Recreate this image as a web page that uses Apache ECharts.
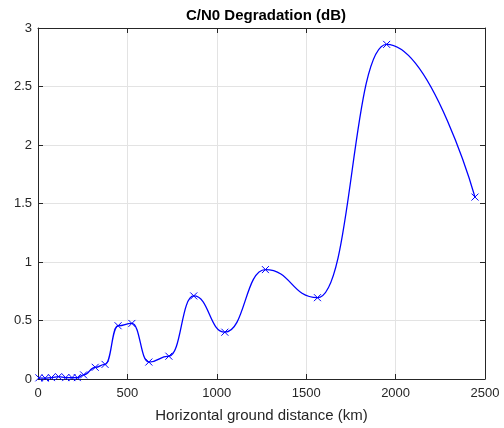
<!DOCTYPE html>
<html>
<head>
<meta charset="utf-8">
<script src="https://cdn.jsdelivr.net/npm/echarts@6/dist/echarts.min.js"></script>
<style>html,body{margin:0;padding:0;background:#fff;}#c{width:504px;height:428px;}</style>
</head>
<body>
<div id="c"></div>
<script>
const distanceKm = [5, 40, 75, 115, 155, 190, 220, 255, 320, 375, 448, 525, 620, 732, 871, 1045, 1272, 1563, 1950, 2444];
const degradationDb = [0.010, 0.008, 0.012, 0.020, 0.012, 0.012, 0.012, 0.035, 0.100, 0.125, 0.455, 0.475, 0.145, 0.195, 0.710, 0.400, 0.935, 0.695, 2.860, 1.555];
const xTicks = [0, 500, 1000, 1500, 2000, 2500];
const yTicks = [0, 0.5, 1, 1.5, 2, 2.5, 3];
const titleText = 'C/N0 Degradation (dB)';
const xLabelText = 'Horizontal ground distance (km)';

const axisColor = '#262626';
const gridColor = '#e3e3e3';
const font = 'Liberation Sans, Arial, Helvetica, sans-serif';

const chart = echarts.init(document.getElementById('c'), null, {renderer: 'canvas'});
const baseX = {
  type: 'value', min: xTicks[0], max: xTicks[xTicks.length - 1], interval: 500,
  axisLine: {show: true, onZero: false, lineStyle: {color: axisColor, width: 1}},
  axisTick: {show: true, inside: true, length: 5, lineStyle: {color: axisColor}},
  splitLine: {show: false}
};
const baseY = {
  type: 'value', min: yTicks[0], max: yTicks[yTicks.length - 1], interval: 0.5,
  axisLine: {show: true, onZero: false, lineStyle: {color: axisColor, width: 1}},
  axisTick: {show: true, inside: true, length: 5, lineStyle: {color: axisColor}},
  splitLine: {show: false}
};
chart.setOption({
  animation: false,
  backgroundColor: '#ffffff',
  title: {
    text: titleText, left: 261, top: 3, textAlign: 'center',
    textStyle: {fontFamily: font, fontSize: 15, fontWeight: 'bold', color: '#000'}
  },
  grid: {left: 38, top: 28, right: 19, bottom: 48, containLabel: false},
  xAxis: [
    Object.assign({}, baseX, {
      position: 'bottom',
      name: xLabelText, nameLocation: 'middle', nameGap: 29,
      nameTextStyle: {fontFamily: font, fontSize: 15, color: axisColor},
      axisLabel: {show: true, margin: 8, fontFamily: font, fontSize: 13, color: axisColor,
        formatter: v => String(v)},
      splitLine: {show: true, lineStyle: {color: gridColor, width: 1}}
    }),
    Object.assign({}, baseX, {position: 'top', axisLabel: {show: false}})
  ],
  yAxis: [
    Object.assign({}, baseY, {
      position: 'left',
      axisLabel: {show: true, margin: 6, fontFamily: font, fontSize: 13, color: axisColor,
        formatter: v => String(v)},
      splitLine: {show: true, lineStyle: {color: gridColor, width: 1}}
    }),
    Object.assign({}, baseY, {position: 'right', axisLabel: {show: false}})
  ],
  series: [{
    type: 'line',
    data: distanceKm.map((d, i) => [d, degradationDb[i]]),
    smooth: 0.5,
    smoothMonotone: 'x',
    showAllSymbol: true,
    symbol: 'path://M0,0L10,10M0,10L10,0',
    symbolSize: 7,
    itemStyle: {color: 'rgba(0,0,0,0)', borderColor: '#0000ff', borderWidth: 1},
    lineStyle: {color: '#0000ff', width: 1.3},
    clip: false
  }]
});
</script>
</body>
</html>
